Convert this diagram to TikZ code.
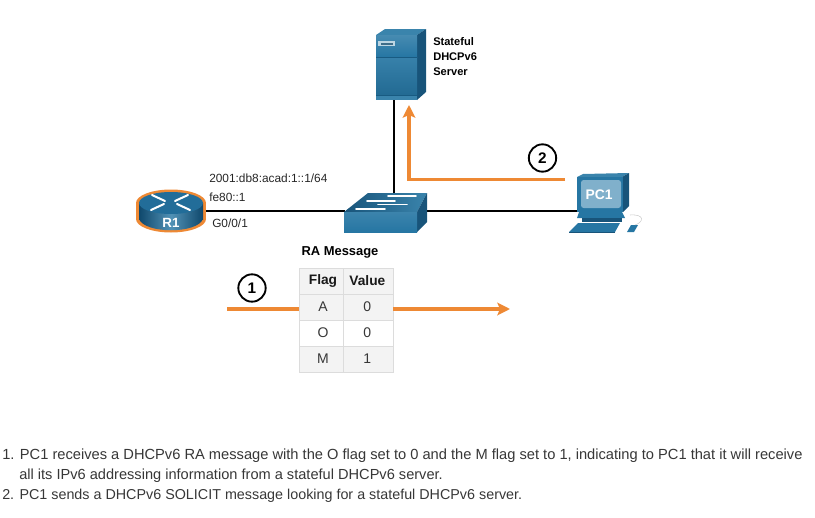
\documentclass[tikz,border=0pt]{standalone}
\usepackage{fontspec}
\setmainfont{Liberation Sans}
\usetikzlibrary{arrows.meta, calc}
\definecolor{myorange}{RGB}{238,137,52}
\definecolor{devfront}{RGB}{38,118,163}
\definecolor{devtop}{RGB}{58,132,172}
\definecolor{devside}{RGB}{24,84,122}
\definecolor{devdark}{RGB}{15,72,108}
\definecolor{screenblue}{RGB}{128,176,203}
\definecolor{cellgray}{RGB}{243,243,243}
\definecolor{cellline}{RGB}{220,220,220}
\definecolor{bodytext}{RGB}{55,55,55}
\tikzset{
  link/.style={line width=1.5pt,black},
  flow/.style={line width=2.3pt,myorange},
  flowtip/.style={-{Stealth[length=9.5pt,width=9.5pt,inset=2pt]}},
  step circle/.style={draw,circle,line width=1.4pt,minimum size=20.5pt,inner sep=0pt,font=\fontsize{11.5}{13}\selectfont\bfseries},
  cell/.style={draw=cellline,line width=0.7pt,minimum height=19.5pt,inner sep=0pt,font=\fontsize{10.5}{12}\selectfont,text=bodytext},
  lab/.style={anchor=west,inner sep=0pt,font=\fontsize{8.9}{10}\selectfont,text=black!85},
  srvlab/.style={anchor=west,inner sep=0pt,font=\fontsize{8.3}{10}\selectfont\bfseries},
  para/.style={anchor=west,inner sep=0pt,text=bodytext},
  devname/.style={inner sep=0pt,text=white,font=\fontsize{10}{12}\selectfont\bfseries},
  arrowline/.style={white,line width=1.5pt,line cap=round},
  swarrow/.style={white,line width=1.2pt,line cap=round},
}
\begin{document}
\begin{tikzpicture}[x=0.75pt,y=-0.75pt]
  \useasboundingbox (0,0) rectangle (815,518);
  % Ports
  \coordinate (r1port) at (205,211);
  \coordinate (swleft) at (345,211);
  \coordinate (swright) at (425,211);
  \coordinate (swtop) at (394,195);
  \coordinate (pcport) at (578,211);
  \coordinate (srvbase) at (394,100);
  \draw[link] (r1port) -- (swleft);
  \draw[link] (swright) -- (pcport);
  \draw[link] (swtop) -- (srvbase);
  % Server
  \fill[devtop] (376,35) -- (385,29) -- (426,29) -- (417,35) -- cycle;
  \fill[devside] (417,35) -- (426,29) -- (426,92) -- (417,100) -- cycle;
  \shade[top color=devfront!85!white,bottom color=devfront] (376,35) rectangle (417,57);
  \shade[top color=devfront!92!white,bottom color=devfront!90!black] (376,57) rectangle (417,95);
  \fill[devtop] (376,95) rectangle (417,100);
  \draw[devdark!60!devfront,line width=0.5pt] (376,57) -- (417,57);
  \draw[devdark!60!devfront,line width=0.5pt] (376,95) -- (417,95);
  \fill[white!70!devfront] (378,41) rectangle (395,46);
  \fill[white!20!devdark] (381,43) rectangle (393,44.5);
  \node[srvlab] (srvlab1) at (433,42) {Stateful};
  \node[srvlab] (srvlab2) at (433,57) {DHCPv6};
  \node[srvlab] (srvlab3) at (433,72) {Server};
  % Router
  \fill[myorange] (136,203) rectangle (206,219);
  \fill[myorange] (171,203) ellipse (35 and 13.5);
  \fill[myorange] (171,219) ellipse (35 and 13.5);
  \shade[left color=devdark,right color=devdark,middle color=devfront!80!white] (139,203) rectangle (203,219);
  \shade[left color=devdark,right color=devdark,middle color=devfront!80!white] (139,219) .. controls (145,234) and (197,234) .. (203,219) -- cycle;
  \fill[devfront!75!devside] (171,203) ellipse (32 and 11);
  \draw[arrowline] (152,195) -- (165,201);
  \draw[arrowline] (177,204) -- (190,210);
  \draw[arrowline] (188,195) -- (175,201);
  \draw[arrowline] (164,204) -- (151,210);
  \node[devname] (r1name) at (171,223) {R1};
  \node[lab] (gua) at (209,178) {2001:db8:acad:1::1/64};
  \node[lab] (lla) at (209,197) {fe80::1};
  \node[lab] (intf) at (212,223) {G0/0/1};
  % Switch
  \shade[left color=devside,right color=devtop] (344,212) -- (368,193) -- (427,193) -- (417,212) -- cycle;
  \fill[devside] (417,212) -- (427,193) -- (427,222) -- (417,232) -- cycle;
  \shade[top color=devfront!90!white,bottom color=devfront] (344,212) rectangle (417,232);
  \draw[swarrow] (388,196) -- (416,196);
  \draw[swarrow] (367,201) -- (395,201);
  \draw[swarrow] (378,204.5) -- (407,204.5);
  \draw[swarrow] (356,209) -- (385,209);
  % PC
  \fill[devtop] (577,177) -- (583,174) -- (629,173) -- (622,177) -- cycle;
  \fill[devside] (622,177) -- (629,173) -- (629,206) -- (623,212) -- cycle;
  \fill[devfront] (577,177) rectangle (623,212);
  \fill[screenblue,rounded corners=2pt] (581,180) rectangle (621,208);
  \node[devname,font=\fontsize{10.4}{12}\selectfont\bfseries] (pcname) at (599,195) {PC1};
  \fill[devfront] (579,212) -- (622,212) -- (625,218) -- (577,218) -- cycle;
  \fill[devside] (582,218) rectangle (622,222);
  \fill[devfront] (578,223) -- (620,223) -- (615,232) -- (569,232) -- cycle;
  \fill[devside] (569,232) rectangle (615,233);
  \fill[devfront] (631,225) -- (638,225) -- (634,232) -- (627,232) -- cycle;
  \draw[gray!40,line width=0.4pt] (630,215) .. controls (645,214) and (644,222) .. (635,225);
  % Flow 2
  \coordinate (pcout) at (565,179.5);
  \coordinate (corner) at (409,179.5);
  \coordinate (srvin) at (409,105);
  \draw[flow,flowtip] (pcout) -- (corner) -- (srvin);
  \node[step circle] (step2) at (542.5,158) {2};
  % RA table
  \node[font=\fontsize{9.7}{11}\selectfont\bfseries] (ratitle) at (340,252.7) {RA Message};
  \tikzset{flagcol/.style={cell,minimum width=33pt,execute at begin node=\hspace*{3pt}},valcol/.style={cell,minimum width=37.5pt,execute at begin node=\hspace*{-1pt}}}
  \node[flagcol,fill=cellgray,font=\fontsize{10.3}{12}\selectfont\bfseries,text=black!90] (flaghead) at (321,281) {Flag};
  \node[valcol,fill=cellgray,font=\fontsize{10.3}{12}\selectfont\bfseries,text=black!90] (valhead) at (368,281) {Value};
  \node[flagcol,fill=cellgray] (flagA) at (321,307) {A};
  \node[valcol,fill=cellgray] (valA) at (368,307) {0};
  \node[flagcol,fill=white] (flagO) at (321,333) {O};
  \node[valcol,fill=white] (valO) at (368,333) {0};
  \node[flagcol,fill=cellgray] (flagM) at (321,359) {M};
  \node[valcol,fill=cellgray] (valM) at (368,359) {1};
  % Flow 1
  \coordinate (ra1start) at (227,309);
  \coordinate (ra1end) at (510,309);
  \draw[flow] (ra1start) -- (ra1start -| flagA.west);
  \draw[flow,flowtip] (ra1start -| valA.east) -- (ra1end);
  \node[step circle] (step1) at (252,288) {1};
  % Notes
  \node[para,font=\fontsize{11}{12}\selectfont] (note1) at (2,455.5) {1. PC1 receives a DHCPv6 RA message with the O flag set to 0 and the M flag set to 1, indicating to PC1 that it will receive};
  \node[para,font=\fontsize{10.95}{12}\selectfont] (note1b) at (19,476) {all its IPv6 addressing information from a stateful DHCPv6 server.};
  \node[para,font=\fontsize{10.75}{12}\selectfont] (note2) at (2,496) {2. PC1 sends a DHCPv6 SOLICIT message looking for a stateful DHCPv6 server.};
\end{tikzpicture}
\end{document}
